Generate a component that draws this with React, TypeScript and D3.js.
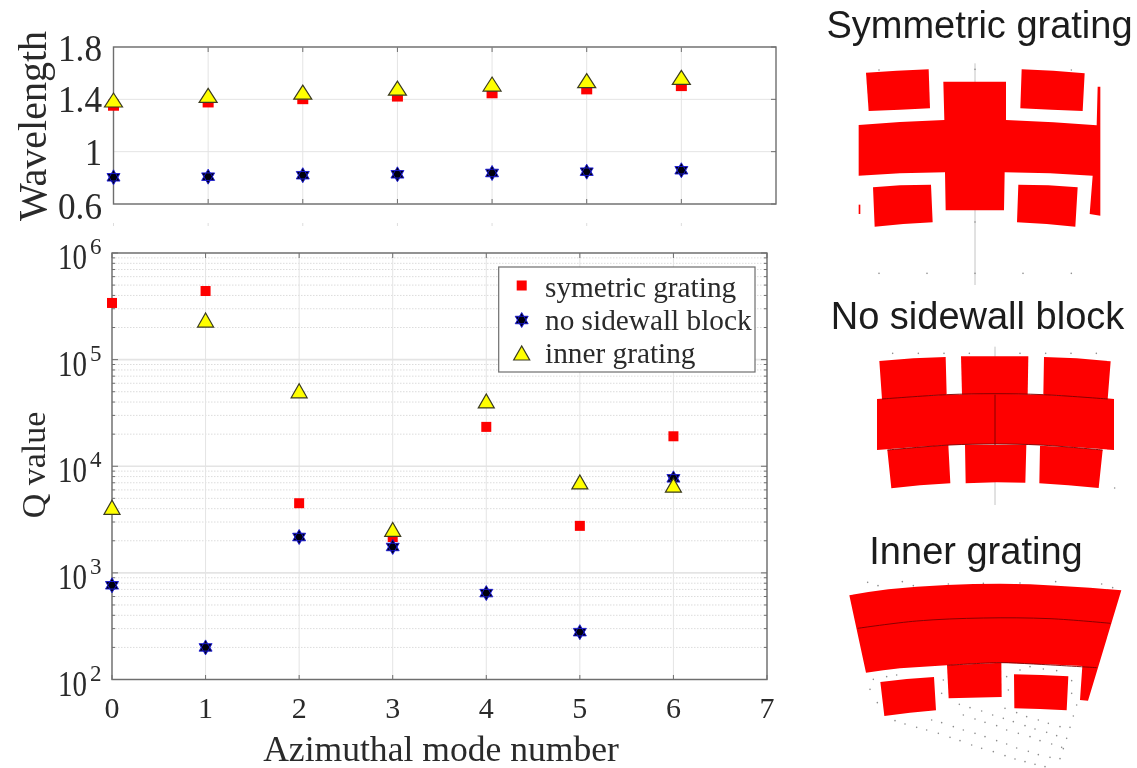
import React from "react";
import * as d3 from "d3";

const modes = [0, 1, 2, 3, 4, 5, 6];
const axisTicks = [0, 1, 2, 3, 4, 5, 6, 7];
const waveTicks = [0.6, 1, 1.4, 1.8];
const waveTickLabels = ["0.6", "1", "1.4", "1.8"];
const qDecades = [2, 3, 4, 5, 6];

const waveSym = [1.355, 1.38, 1.405, 1.425, 1.45, 1.48, 1.505];
const waveNoWall = [0.804, 0.809, 0.82, 0.827, 0.837, 0.847, 0.858];
const waveInner = [1.395, 1.43, 1.455, 1.485, 1.517, 1.543, 1.568];

const qSym = [340000, 440000, 4500, 2170, 23400, 2760, 19100];
const qNoWall = [765, 200, 2170, 1750, 646, 278, 7700];
const qInner = [4120, 235000, 51000, 2560, 41000, 7130, 6640];

const legendLabels = ["symetric grating", "no sidewall block", "inner grating"];

type P = [number, number];
// Diagram outlines in each diagram's own units
const symPolys: P[][] = [
  [[198, 218], [290, 212], [386, 208], [390, 325], [300, 329], [206, 333]],
  [[665, 208], [760, 212], [854, 220], [848, 333], [755, 329], [661, 325]],
  [[430, 245], [618, 245], [618, 360], [760, 367], [890, 376], [893, 260], [901, 260], [901, 647], [869, 642], [878, 527], [750, 520], [614, 517], [612, 631], [437, 631], [435, 517], [300, 520], [176, 527], [176, 375], [300, 366], [433, 360]],
  [[219, 562], [300, 556], [393, 554], [398, 667], [310, 672], [224, 680]],
  [[655, 554], [745, 556], [833, 562], [826, 680], [740, 672], [651, 667]],
  [[176, 614], [181, 614], [181, 642], [176, 642]],
];
const symAxis: P[] = [[525, 190], [525, 855]];
const symDots: P[] = [[237, 820], [381, 820], [525, 820], [669, 820], [814, 820], [237, 210], [814, 210], [525, 666], [525, 208]];

const wallPolys: P[][] = [
  [[238, 213], [340, 205], [437, 201], [440, 314], [340, 320], [246, 328]],
  [[483, 199], [685, 199], [683, 314], [486, 314]],
  [[732, 201], [830, 205], [932, 214], [923, 328], [830, 320], [730, 314]],
  [[231, 327], [340, 319], [440, 314], [585, 311], [730, 314], [840, 319], [942, 327], [942, 480], [830, 472], [720, 465], [585, 462], [450, 465], [340, 472], [231, 480]],
  [[262, 480], [350, 472], [445, 465], [451, 580], [360, 586], [274, 595]],
  [[495, 465], [679, 465], [676, 578], [590, 577], [497, 580]],
  [[720, 467], [815, 472], [908, 480], [896, 594], [805, 586], [718, 580]],
];
const wallAxis: P[] = [[585, 170], [585, 645]];
const wallSeams: P[][] = [
  [[585, 314], [585, 465]],
  [[246, 327], [440, 314], [585, 311], [730, 314], [923, 327]],
  [[262, 480], [450, 465], [585, 462], [720, 465], [908, 480]],
];
const wallDots: P[] = [[278, 190], [355, 190], [432, 190], [508, 190], [660, 190], [737, 190], [813, 190], [889, 190], [944, 594]];

const innerPolys: P[][] = [
  [[148, 226], [205, 216], [265, 208], [350, 200], [440, 195], [520, 192], [600, 191], [690, 193], [770, 197], [870, 203], [964, 211], [864, 542], [840, 540], [847, 438], [770, 434], [700, 432], [600, 428], [520, 431], [440, 436], [370, 440], [300, 445], [250, 451], [198, 458]],
  [[241, 486], [320, 477], [402, 471], [408, 571], [330, 578], [253, 588]],
  [[441, 436], [604, 428], [605, 531], [446, 535]],
  [[642, 463], [725, 465], [805, 469], [800, 571], [720, 567], [643, 565]],
];
const innerSeams: P[][] = [
  [[173, 325], [350, 303], [550, 294], [750, 296], [932, 310]],
  [[441, 436], [600, 428], [700, 432], [890, 443]],
];
const innerDots: P[] = [
  [203, 187], [234, 197], [307, 185], [340, 197], [445, 192], [550, 190], [660, 189], [767, 185], [905, 192], [938, 203],
  [210, 508], [232, 548], [285, 602], [315, 612], [350, 622], [380, 630], [415, 640], [450, 652], [480, 662], [515, 675], [545, 685], [580, 695], [615, 707], [645, 717], [675, 725], [705, 733], [735, 740], [780, 716],
  [395, 600], [425, 608], [460, 620], [490, 630], [525, 640], [555, 650], [590, 662], [620, 672], [650, 684], [685, 694], [715, 704], [750, 712], [790, 686],
  [478, 553], [510, 563], [545, 573], [578, 585], [610, 595], [640, 605], [675, 617], [705, 627], [740, 637], [770, 647], [800, 655],
  [490, 585], [525, 597], [555, 607], [590, 617], [620, 630], [655, 640], [690, 650], [720, 662], [755, 672], [785, 682],
  [615, 565], [650, 578], [680, 590], [715, 600], [745, 610], [780, 620], [810, 622], [820, 588], [830, 555], [815, 520], [815, 482],
  [690, 440], [730, 447], [770, 452], [660, 450], [620, 470], [625, 510], [430, 480], [425, 520], [290, 465], [260, 470], [220, 478],
];

const minorMult = [2, 3, 4, 5, 6, 7, 8, 9];

const symbolStar = (cx: number, cy: number, r: number) => {
  const tri = (a0: number) => d3.range(3).map((i) => {
    const a = a0 + (i * 2 * Math.PI) / 3;
    return [cx + r * Math.sin(a), cy - r * Math.cos(a)] as P;
  });
  const line = d3.line();
  return line(tri(0)) + "Z" + line(tri(Math.PI)) + "Z";
};
const symbolTri = (cx: number, cy: number, w: number, h: number) =>
  `M${cx - w / 2},${cy + h / 2}L${cx + w / 2},${cy + h / 2}L${cx},${cy - h / 2}Z`;

function Square({ x, y, s = 10 }: { x: number; y: number; s?: number }) {
  return <rect x={x - s / 2} y={y - s / 2} width={s} height={s} fill="#fe0000" />;
}
function Star({ x, y, r = 7.5 }: { x: number; y: number; r?: number }) {
  return <path d={symbolStar(x, y, r)} fill="#00000f" stroke="#1818d8" strokeWidth={0.9} strokeLinejoin="round" />;
}
function Tri({ x, y, w = 16, h = 14 }: { x: number; y: number; w?: number; h?: number }) {
  return <path d={symbolTri(x, y, w, h)} fill="#ffff00" stroke="#3a3a20" strokeWidth={1.2} />;
}

function Diagram({ polys, seams = [], axis, dots, ox, oy }: { polys: P[][]; seams?: P[][]; axis?: P[]; dots: P[]; ox: number; oy: number }) {
  const sx = d3.scaleLinear().domain([0, 3]).range([ox, ox + 1]);
  const sy = d3.scaleLinear().domain([0, 3]).range([oy, oy + 1]);
  const line = d3.line<P>().x((d) => sx(d[0])).y((d) => sy(d[1]));
  const seam = d3.line<P>().x((d) => sx(d[0])).y((d) => sy(d[1])).curve(d3.curveCatmullRom);
  return (
    <g>
      {axis && <path d={line(axis)!} stroke="#c4c4c4" strokeWidth={1} fill="none" />}
      {dots.map((d, i) => (
        <circle key={i} cx={sx(d[0])} cy={sy(d[1])} r={0.8} fill="#8c8c8c" />
      ))}
      {polys.map((p, i) => (
        <path key={i} d={line(p)! + "Z"} fill="#fe0000" />
      ))}
      {seams.map((p, i) => (
        <path key={i} d={seam(p)!} fill="none" stroke="#7a0808" strokeWidth={0.9} />
      ))}
    </g>
  );
}

export default function App() {
  const serif = "'Liberation Serif', serif";
  const sans = "'Liberation Sans', sans-serif";
  const xTop = d3.scaleLinear().domain([0, 7]).range([113.5, 776]);
  const yTop = d3.scaleLinear().domain([0.6, 1.8]).range([204, 47]);
  const xBot = d3.scaleLinear().domain([0, 7]).range([112, 767]);
  const yBot = d3.scaleLog().domain([100, 1000000]).range([679.5, 253]);
  const minorVals = qDecades.slice(0, -1).flatMap((k) => minorMult.map((m) => m * Math.pow(10, k)));
  const decades = qDecades.map((k) => Math.pow(10, k));
  const axisColor = "#6e6e6e";
  const gridColor = "#e4e4e4";
  const textColor = "#2a2a2a";
  return (
    <svg width={1137} height={768} style={{ position: "absolute", left: 0, top: 0 }}>
      <defs>
        <filter id="soft" x="-2%" y="-2%" width="104%" height="104%">
          <feGaussianBlur stdDeviation={0.65} />
        </filter>
      </defs>
      <rect width={1137} height={768} fill="#ffffff" />
      <g filter="url(#soft)">
        {/* top panel */}
        {modes.map((m) => (
          <g key={m}>
            <line x1={xTop(m)} x2={xTop(m)} y1={47} y2={204} stroke={gridColor} />
            <line x1={xTop(m)} x2={xTop(m)} y1={47} y2={52} stroke={axisColor} />
            <line x1={xTop(m)} x2={xTop(m)} y1={204} y2={199} stroke={axisColor} />
            <line x1={xTop(m)} x2={xTop(m)} y1={223} y2={226} stroke="#dddddd" />
          </g>
        ))}
        {waveTicks.map((t, i) => (
          <g key={t}>
            <line x1={113.5} x2={776} y1={yTop(t)} y2={yTop(t)} stroke={gridColor} />
            <line x1={771} x2={776} y1={yTop(t)} y2={yTop(t)} stroke={axisColor} />
            <text x={102} y={yTop(t) + (i === 3 ? 14 : i === 0 ? 15 : 13)} textAnchor="end" fontFamily={serif} fontSize={37} fill={textColor} textLength={i === 1 ? 17 : 44} lengthAdjust="spacingAndGlyphs">
              {waveTickLabels[i]}
            </text>
          </g>
        ))}
        <rect x={113.5} y={47} width={662.5} height={157} fill="none" stroke={axisColor} strokeWidth={1.4} />
        {modes.map((m, i) => <Square key={m} x={xTop(m)} y={yTop(waveSym[i])} s={11} />)}
        {modes.map((m, i) => <Star key={m} x={xTop(m)} y={yTop(waveNoWall[i])} />)}
        {modes.map((m, i) => <Tri key={m} x={xTop(m)} y={yTop(waveInner[i])} w={18} h={14} />)}
        <text transform="translate(46,126) rotate(-90)" textAnchor="middle" fontFamily={serif} fontSize={40} fill={textColor}>Wavelength</text>

        {/* bottom panel */}
        {minorVals.map((v) => (
          <line key={v} x1={112} x2={767} y1={yBot(v)} y2={yBot(v)} stroke="#dcdcdc" strokeDasharray="1.5 1.5" />
        ))}
        {decades.map((v) => (
          <line key={v} x1={112} x2={767} y1={yBot(v)} y2={yBot(v)} stroke={gridColor} strokeWidth={1.6} />
        ))}
        {axisTicks.map((m) => (
          <line key={m} x1={xBot(m)} x2={xBot(m)} y1={253} y2={679.5} stroke={gridColor} />
        ))}
        {minorVals.map((v) => (
          <g key={v}>
            <line x1={112} x2={115} y1={yBot(v)} y2={yBot(v)} stroke={axisColor} />
            <line x1={764} x2={767} y1={yBot(v)} y2={yBot(v)} stroke={axisColor} />
          </g>
        ))}
        {decades.map((v) => (
          <g key={v}>
            <line x1={112} x2={118} y1={yBot(v)} y2={yBot(v)} stroke={axisColor} />
            <line x1={761} x2={767} y1={yBot(v)} y2={yBot(v)} stroke={axisColor} />
          </g>
        ))}
        {axisTicks.map((m) => (
          <g key={m}>
            <line x1={xBot(m)} x2={xBot(m)} y1={253} y2={258} stroke={axisColor} />
            <line x1={xBot(m)} x2={xBot(m)} y1={679.5} y2={675} stroke={axisColor} />
            <text x={xBot(m)} y={718} textAnchor="middle" fontFamily={serif} fontSize={30} fill={textColor}>{m}</text>
          </g>
        ))}
        {qDecades.map((k) => (
          <g key={k}>
            <text transform={`translate(58,${yBot(Math.pow(10, k)) + 16}) scale(1,1.24)`} fontFamily={serif} fontSize={29} fill={textColor}>10</text>
            <text x={90} y={yBot(Math.pow(10, k)) + 1} fontFamily={serif} fontSize={23} fill={textColor}>{k}</text>
          </g>
        ))}
        <rect x={112} y={253} width={655} height={426.5} fill="none" stroke={axisColor} strokeWidth={1.4} />
        {modes.map((m, i) => <Square key={m} x={xBot(m)} y={yBot(qSym[i])} />)}
        {modes.map((m, i) => <Star key={m} x={xBot(m)} y={yBot(qNoWall[i])} />)}
        {modes.map((m, i) => <Tri key={m} x={xBot(m)} y={yBot(qInner[i])} />)}
        <text transform="translate(45,465) rotate(-90)" textAnchor="middle" fontFamily={serif} fontSize={34} fill={textColor}>Q value</text>
        <text x={441} y={761} textAnchor="middle" fontFamily={serif} fontSize={35.6} fill={textColor}>Azimuthal mode number</text>

        {/* legend */}
        <rect x={498.7} y={267} width={256.3} height={105} fill="#ffffff" stroke={axisColor} strokeWidth={1.2} />
        <Square x={521.7} y={285.5} s={10} />
        <Star x={521.7} y={320} />
        <Tri x={521.7} y={353} />
        {legendLabels.map((l, i) => (
          <text key={l} x={545} y={297 + i * 33} fontFamily={serif} fontSize={29.3} fill={textColor}>{l}</text>
        ))}

        {/* right-hand diagrams */}
        <text x={979.5} y={38} textAnchor="middle" fontFamily={sans} fontSize={38} fill="#1a1a1a">Symmetric grating</text>
        <Diagram polys={symPolys} axis={symAxis} dots={symDots} ox={800} oy={0} />
        <text x={977.5} y={329} textAnchor="middle" fontFamily={sans} fontSize={38} fill="#1a1a1a">No sidewall block</text>
        <Diagram polys={wallPolys} seams={wallSeams} axis={wallAxis} dots={wallDots} ox={800} oy={290} />
        <text x={976} y={564} textAnchor="middle" fontFamily={sans} fontSize={38} fill="#1a1a1a">Inner grating</text>
        <Diagram polys={innerPolys} seams={innerSeams} dots={innerDots} ox={800} oy={520} />
      </g>
    </svg>
  );
}
